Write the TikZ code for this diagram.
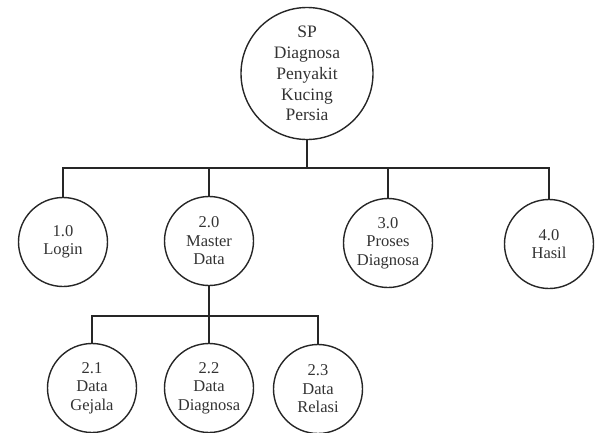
\documentclass[tikz,border=0pt]{standalone}
\usepackage{fontspec}
\setmainfont{Liberation Serif}
\begin{document}
\begin{tikzpicture}[x=1pt,y=-1pt,
  proc/.style={circle,draw=black!85,line width=1.4pt,align=center,inner sep=0pt,
    text=black!80,font=\fontsize{16.5}{18.5}\selectfont,minimum size=89pt},
  topproc/.style={proc,minimum size=132pt,font=\fontsize{17.5}{20.8}\selectfont},
  link/.style={draw=black!85,line width=1.4pt}]
\useasboundingbox (0,0) rectangle (595,432);
\node[topproc] (top) at (307,73.5) {SP\\Diagnosa\\Penyakit\\Kucing\\Persia};
\node[proc] (n1) at (63,242) {1.0\\Login};
\node[proc] (n2) at (209,241) {2.0\\Master\\Data};
\node[proc] (n3) at (388,243) {3.0\\Proses\\Diagnosa};
\node[proc] (n4) at (549,244) {4.0\\Hasil};
\node[proc] (n21) at (92,388) {2.1\\Data\\Gejala};
\node[proc] (n22) at (209,388) {2.2\\Data\\Diagnosa};
\node[proc] (n23) at (318,389) {2.3\\Data\\Relasi};
\coordinate (bus1) at (0,168);
\coordinate (bus2) at (0,316);
\draw[link] (top.south) -- (top.south |- bus1);
\draw[link] (n1.north) -- (n1.north |- bus1) -- (n4.north |- bus1) -- (n4.north);
\draw[link] (n2.north) -- (n2.north |- bus1);
\draw[link] (n3.north) -- (n3.north |- bus1);
\draw[link] (n2.south) -- (n22.north);
\draw[link] (n21.north) -- (n21.north |- bus2) -- (n23.north |- bus2) -- (n23.north);
\end{tikzpicture}
\end{document}
